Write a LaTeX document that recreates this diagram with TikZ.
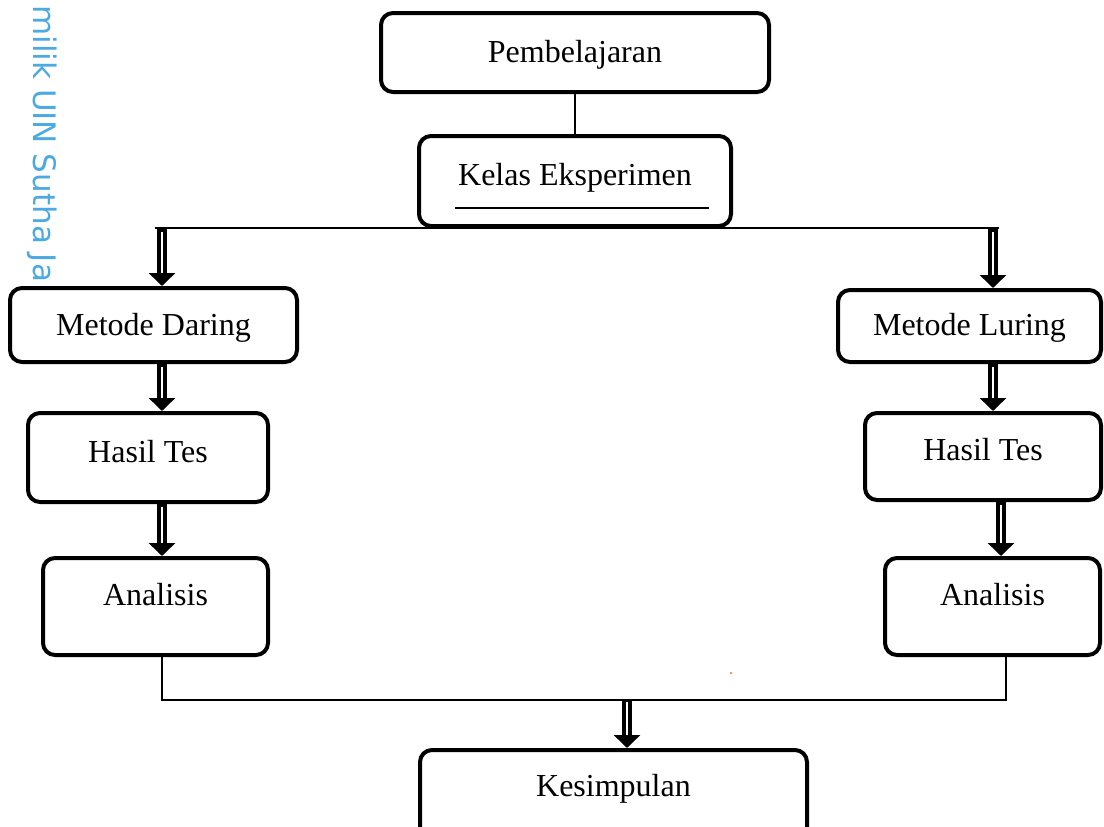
\documentclass[tikz,border=0pt]{standalone}
\usepackage{fontspec}
\setmainfont{Liberation Serif}
\newfontfamily\wmfont{DejaVu Sans}
\usetikzlibrary{arrows.meta}
\definecolor{wmblue}{RGB}{75,170,225}
\definecolor{dotorange}{RGB}{240,110,30}
\tikzset{
  boxnode/.style={draw=black, fill=white, line width=4pt, rounded corners=12pt,
    inner sep=0pt, text height=22pt, text depth=#1,
    font=\fontsize{32}{38}\selectfont},
  thinline/.style={draw=black, line width=1.5pt},
  fatshaft/.style={draw=black, line width=10pt, -{Triangle[width=26pt,length=13pt]}},
  fatcore/.style={draw=white, line width=1.3pt, shorten >=13pt, shorten <=3pt},
}
\begin{document}
\begin{tikzpicture}[x=1pt,y=-1pt]
\useasboundingbox (0,0) rectangle (1104,827);
\fill[white] (0,0) rectangle (1104,827);

% watermark
\node[anchor=base west, rotate=-90, inner sep=0pt, text=wmblue,
      font=\wmfont\fontsize{31}{37}\selectfont] (wm) at (34,5) {milik UIN Sutha Ja};

% boxes
\node[boxnode=3pt,  minimum width=388pt, minimum height=79pt] (pem) at (575,52.5) {Pembelajaran};
\node[boxnode=14pt, minimum width=312pt, minimum height=90pt] (kel) at (575,181) {Kelas Eksperimen};
\node[boxnode=2pt,  minimum width=287pt, minimum height=74pt] (md)  at (153.5,325) {Metode Daring};
\node[boxnode=4pt,  minimum width=263pt, minimum height=72pt] (ml)  at (969.5,326) {Metode Luring};
\node[boxnode=13pt, minimum width=240pt, minimum height=89pt] (hl)  at (148,457.5) {Hasil Tes};
\node[boxnode=15pt, minimum width=236pt, minimum height=87pt] (hr)  at (983,456.5) {Hasil Tes};
\node[boxnode=25pt, minimum width=225pt, minimum height=97pt] (al)  at (155.5,606.5) {Analisis};
\node[boxnode=25pt, minimum width=215pt, minimum height=97pt] (ar)  at (992.5,606.5) {Analisis};
\node[boxnode=20pt, minimum width=387pt, minimum height=90pt] (kes) at (613.5,795) {Kesimpulan};

% underline inside Kelas Eksperimen
\coordinate (ul1) at (455,208);
\coordinate (ul2) at (709,208);
\draw[black, line width=1.2pt] (ul1) -- (ul2);

% connectors
\draw[thinline] (pem.south) -- (kel.north);
\coordinate (topL) at (155,228);
\coordinate (topR) at (999,228);
\draw[thinline] (topL) -- (topR);

\coordinate (alb) at (162,655);
\coordinate (arb) at (1006,655);
\coordinate (botL) at (162,700);
\coordinate (botR) at (1006,700);
\draw[thinline] (alb) -- (botL) -- (botR) -- (arb);

% fat arrows
\coordinate (a1) at (162,229);
\coordinate (a2) at (993,229);
\coordinate (a3) at (162,364);
\coordinate (a4) at (993,364);
\coordinate (a5) at (162,504);
\coordinate (a6) at (1001,502);
\coordinate (a7) at (627,699);
\foreach \s/\t in {a1/md, a2/ml, a3/hl, a4/hr, a5/al, a6/ar, a7/kes}{
  \draw[fatshaft] (\s) -- (\s |- \t.north);
  \draw[fatcore] (\s) -- (\s |- \t.north);
}

% small orange dot
\fill[dotorange] (731,673) circle (1.1pt);
\end{tikzpicture}
\end{document}
